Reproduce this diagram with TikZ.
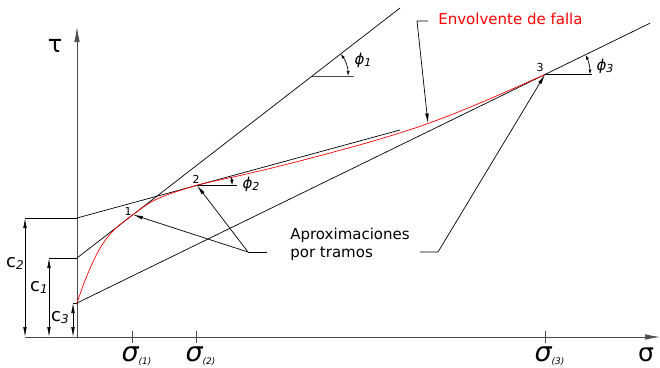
\documentclass[tikz,border=0pt]{standalone}
\usepackage{fontspec}
\setmainfont{DejaVu Sans}
\usetikzlibrary{arrows.meta,calc}
\newcommand{\fsz}[1]{\fontsize{#1}{1.2\dimexpr#1pt\relax}\selectfont}
\begin{document}
\begin{tikzpicture}[>={Latex[length=10pt,width=3.6pt]}, x=1pt, y=-1pt, line width=0.7pt,
    axis/.style={gray!60!black, -{Latex[length=15pt,width=5.5pt]}},
    envel/.style={red},
    angarc/.style={<->, >={Latex[length=5pt,width=3pt]}},
    lbl/.style={inner sep=0pt},
    tick/.style={gray!60!black}]
  \useasboundingbox (0,0) rectangle (660,367);
  % origen, cohesiones y puntos de tangencia
  \coordinate (o) at (77,337);
  \coordinate (c1) at (77,258);
  \coordinate (c2) at (77,218);
  \coordinate (c3) at (77,303);
  \coordinate (p1) at (133,214.7);
  \coordinate (p2) at (197,185.3);
  \coordinate (p3) at (545,74.5);
  \coordinate (e1) at (400,8);
  \coordinate (e2) at (400,130);
  \coordinate (e3) at (650,23.2);
  % ejes
  \draw[axis] (o) -- (77,27);
  \draw[axis] (25,337) -- (660,337);
  \node[lbl] (tau) at (55,46) {\fsz{24}τ};
  \node[lbl] (sig) at (646,355) {\fsz{25}σ};
  % tramos rectos
  \draw (c1) -- (e1);
  \draw (c2) -- (e2);
  \draw (c3) -- (e3);
  % envolvente de falla
  \draw[envel] plot[smooth, tension=0.6] coordinates {(77,303) (86,278) (99,250) (113,231) (133,214.7)
    (157,199) (197,185.3) (240,175.5) (280,166) (330,153) (380,139) (428,123.5) (480,103) (545,74.5)};
  % puntos
  \node[lbl] (n1) at (128,211) {\fsz{11}1};
  \node[lbl] (n2) at (196,179) {\fsz{11}2};
  \node[lbl] (n3) at (540,67) {\fsz{11}3};
  % angulos
  \coordinate (v1) at ($(c1)!0.728!(e1)$);
  \draw[gray!60!black] (v1) -- ++(42,0);
  \draw[angarc] ($(v1)+(36,0)$) arc[start angle=0, end angle=-37.74, radius=36];
  \node[lbl] (f1) at (363,60) {\fsz{15}\itshape ϕ\raisebox{-2pt}{\fsz{11}1}};
  \draw (p2) -- ++(40,0);
  \draw[angarc] ($(p2)+(35,0)$) arc[start angle=0, end angle=-15.24, radius=35];
  \node[lbl] (f2) at (251,184) {\fsz{15}\itshape ϕ\raisebox{-2pt}{\fsz{11}2}};
  \draw (p3) -- ++(47,0);
  \draw[angarc] ($(p3)+(45,0)$) arc[start angle=0, end angle=-26.02, radius=45];
  \node[lbl] (f3) at (605,66) {\fsz{15}\itshape ϕ\raisebox{-2pt}{\fsz{11}3}};
  % cohesiones
  \draw (25,218) -- (c2);
  \draw (49,258) -- (c1);
  \draw (73,303) -- (c3);
  \draw[<->] (25,218) -- (25,337);
  \draw[<->] (49,258) -- (49,337);
  \draw[<->] (73,303) -- (73,337);
  \node[lbl] (lc2) at (15,263) {\fsz{18}c\raisebox{-2pt}{\fsz{12}\itshape 2}};
  \node[lbl] (lc1) at (39,287) {\fsz{18}c\raisebox{-2pt}{\fsz{12}\itshape 1}};
  \node[lbl] (lc3) at (60,318) {\fsz{18}c\raisebox{-2pt}{\fsz{12}\itshape 3}};
  % esfuerzos normales
  \foreach \xs/\i in {132/1,196/2,545/3}{
    \draw[tick] (\xs,331) -- (\xs,343);
    \node[lbl] (s\i) at (\xs+4.5,356) {\fsz{27}\itshape σ\raisebox{-3pt}{\fsz{9}(\i)}};
  }
  % textos y flechas
  \node[lbl, red, anchor=west, font=\fsz{15}] (env) at (438,19) {Envolvente de falla};
  \coordinate (ea) at (428,21);
  \coordinate (eb) at (417,21);
  \draw[->] (ea) -- (eb) -- (428,123.5);
  \node[lbl, align=left, anchor=west, font=\fsz{15}] (apr) at (290,244) {Aproximaciones\\por tramos};
  \coordinate (la) at (267,252);
  \coordinate (lb) at (248,252);
  \coordinate (lc) at (420,252);
  \coordinate (ld) at (438,252);
  \draw (la) -- (lb);
  \draw[->] (lb) -- (p1);
  \draw[->] (lb) -- (p2);
  \draw[->] (lc) -- (ld) -- (p3);
\end{tikzpicture}
\end{document}
